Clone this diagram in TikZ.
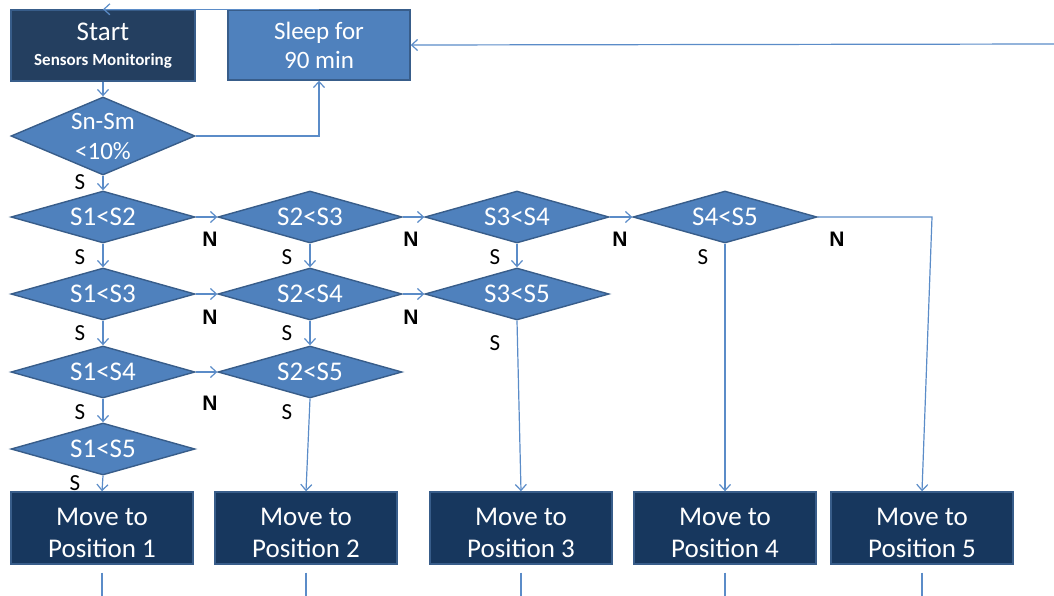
\documentclass[tikz,border=0pt]{standalone}
\usepackage{fontspec}
\setmainfont{Carlito}
\newfontfamily\nfont{Liberation Sans}
\usetikzlibrary{shapes.geometric,arrows.meta}
\definecolor{navy}{HTML}{17375E}
\definecolor{startc}{HTML}{243F60}
\definecolor{midb}{HTML}{4F81BD}
\definecolor{edgeb}{HTML}{385D8A}
\definecolor{lineb}{HTML}{5B8CC8}
\tikzset{
  x=1pt, y=-1pt,
  dec/.style={diamond, fill=midb, draw=edgeb, line width=1.4pt, inner sep=0pt, aspect=3.5,
    minimum width=184pt, minimum height=52pt, text=white, font=\fontsize{27}{29}\selectfont},
  movebox/.style={rectangle, fill=navy, draw=edgeb, line width=1.4pt, minimum width=182pt,
    minimum height=72pt, inner sep=0pt, text=white, align=center, text height=59pt, text depth=0pt,
    font=\fontsize{27}{32}\selectfont},
  conn/.style={draw=lineb, line width=1.2pt, -{Straight Barb[length=6pt,width=11pt]}},
  plain/.style={draw=lineb, line width=1.2pt},
  slab/.style={font=\fontsize{23}{25}\selectfont, inner sep=0pt},
  nlab/.style={font=\nfont\bfseries\fontsize{21}{23}\selectfont, inner sep=0pt},
}
\begin{document}
\begin{tikzpicture}
\useasboundingbox (0,0) rectangle (1054,595);
% top boxes
\node[rectangle, fill=startc, draw=edgeb, line width=1.4pt, minimum width=184pt, minimum height=71pt,
  inner sep=0pt, text=white, align=center] (start) at (103,45.5)
  {\fontsize{27}{27}\selectfont Start\\[12pt]\bfseries\fontsize{17}{17}\selectfont Sensors Monitoring};
\node[rectangle, fill=midb, draw=edgeb, line width=1.4pt, minimum width=182pt, minimum height=70pt,
  inner sep=0pt, text=white, align=center, font=\fontsize{25}{29}\selectfont] (sleep) at (319,45)
  {Sleep for\\90 min};
\node[dec, aspect=2.4, minimum height=78pt, align=center, font=\fontsize{25}{30}\selectfont] (dsn) at (103,136) {Sn-Sm\\<10\%};
% decision grid
\node[dec] (d12) at (103,217) {S1<S2};
\node[dec] (d23) at (310,217) {S2<S3};
\node[dec] (d34) at (517,217) {S3<S4};
\node[dec] (d45) at (725,217) {S4<S5};
\node[dec] (d13) at (103,294) {S1<S3};
\node[dec] (d24) at (310,294) {S2<S4};
\node[dec] (d35) at (517,294) {S3<S5};
\node[dec] (d14) at (103,372) {S1<S4};
\node[dec] (d25) at (310,372) {S2<S5};
\node[dec] (d15) at (103,449) {S1<S5};
% move boxes
\node[movebox] (m1) at (102,528) {Move to\\Position 1};
\node[movebox] (m2) at (306,528) {Move to\\Position 2};
\node[movebox] (m3) at (521,528) {Move to\\Position 3};
\node[movebox] (m4) at (725,528) {Move to\\Position 4};
\node[movebox] (m5) at (922,528) {Move to\\Position 5};
% coordinates
\coordinate (rin) at (1054,44);
\coordinate (c5) at (932,217);
\foreach \m in {m1,m2,m3,m4,m5}{
  \coordinate (\m a) at ([yshift=-8pt]\m.south);
  \coordinate (\m b) at ([yshift=-40pt]\m.south);
}
% connectors
\draw[conn] (sleep.north) -- (start.north);
\draw[conn] (rin) -- (sleep.east);
\draw[conn] (start.south) -- (dsn.north);
\draw[conn] (dsn.east) -| (sleep.south);
\draw[conn] (dsn.south) -- (d12.north);
\draw[conn] (d12.east) -- (d23.west);
\draw[conn] (d23.east) -- (d34.west);
\draw[conn] (d34.east) -- (d45.west);
\draw[conn] (d13.east) -- (d24.west);
\draw[conn] (d24.east) -- (d35.west);
\draw[conn] (d14.east) -- (d25.west);
\draw[conn] (d12.south) -- (d13.north);
\draw[conn] (d13.south) -- (d14.north);
\draw[conn] (d14.south) -- (d15.north);
\draw[conn] (d15.south) -- (m1.north);
\draw[conn] (d23.south) -- (d24.north);
\draw[conn] (d24.south) -- (d25.north);
\draw[conn] (d25.south) -- (m2.north);
\draw[conn] (d34.south) -- (d35.north);
\draw[conn] (d35.south) -- (m3.north);
\draw[conn] (d45.south) -- (m4.north);
\draw[conn] (d45.east) -- (c5) -- (m5.north);
\foreach \m in {m1,m2,m3,m4,m5}{ \draw[plain] (\m a) -- (\m b); }
% labels
\node[slab] (s0) at (80,182) {S};
\node[slab] (s1) at (80,257) {S};
\node[slab] (s2) at (287,257) {S};
\node[slab] (s3) at (495,257) {S};
\node[slab] (s4) at (703,257) {S};
\node[slab] (s5) at (80,333) {S};
\node[slab] (s6) at (287,333) {S};
\node[slab] (s7) at (495,343) {S};
\node[slab] (s8) at (80,412) {S};
\node[slab] (s9) at (287,412) {S};
\node[slab] (s10) at (75,483) {S};
\node[nlab] (n1) at (210,239) {N};
\node[nlab] (n2) at (411,239) {N};
\node[nlab] (n3) at (620,239) {N};
\node[nlab] (n4) at (837,239) {N};
\node[nlab] (n5) at (210,317) {N};
\node[nlab] (n6) at (411,317) {N};
\node[nlab] (n7) at (210,403) {N};
\end{tikzpicture}
\end{document}
